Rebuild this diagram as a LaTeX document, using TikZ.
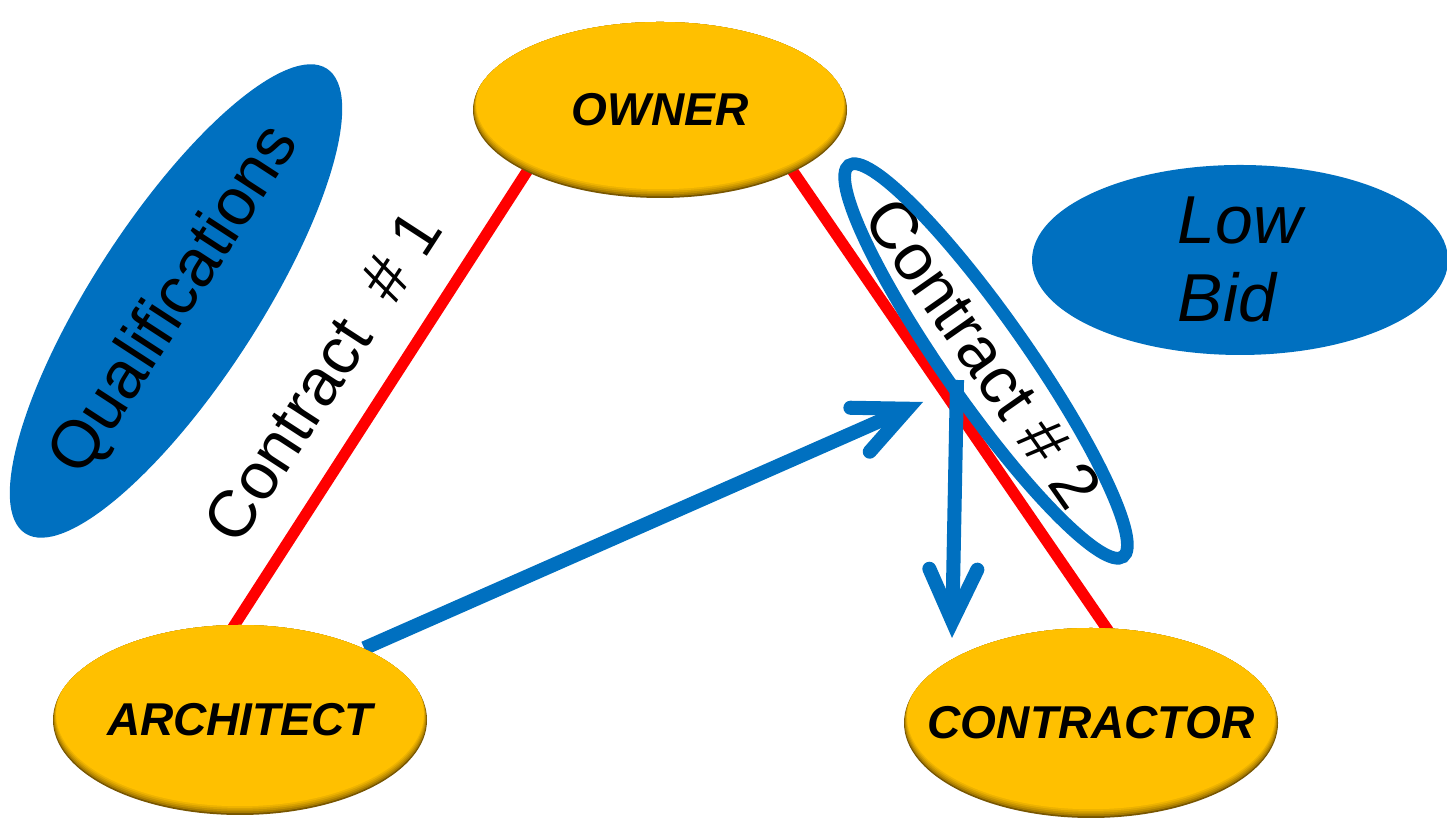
\documentclass[tikz,border=0pt]{standalone}
\usepackage{fontspec}
\setmainfont{Liberation Sans}
\usetikzlibrary{shapes.geometric,arrows.meta,backgrounds,calc}
\definecolor{gold}{RGB}{255,192,0}
\definecolor{goldDark}{RGB}{120,86,0}
\definecolor{blueC}{RGB}{0,112,192}
\definecolor{redC}{RGB}{255,0,0}

\begin{document}
\begin{tikzpicture}[
  party/.style={ellipse, inner xsep=-1.2cm, inner ysep=0pt, minimum width=3.74cm, minimum height=1.9cm, fill=goldDark,
    font=\fontsize{13.1}{15}\selectfont\bfseries\itshape,
    path picture={
      \foreach \k/\c in {1/35,2/55,3/72,4/87,5/100}
        \fill[gold!\c!goldDark] let \p1=(path picture bounding box.north east), \p2=(path picture bounding box.south west) in
          ($(path picture bounding box.center)+(0,\k*0.35pt)$) ellipse ({(\x1-\x2)/2-\k*0.18pt} and {(\y1-\y2)/2-\k*0.15pt});
    }},
  blob/.style={ellipse, fill=blueC, inner xsep=-1.2cm, inner ysep=0pt},
  contractfont/.style={font=\fontsize{18.8}{22}\selectfont},
  redline/.style={draw=redC, line width=3.2pt, shorten <=-3pt, shorten >=-3pt},
  bluearrow/.style={draw=blueC, line width=4pt,
    -{Straight Barb[length=5.2mm, width=4.8mm, line cap=round, line join=miter]}}
]
  \useasboundingbox (0,0) rectangle (14.47,8.18);

  \node[party, minimum height=1.76cm] (owner) at (6.60, 7.08) {OWNER};
  \node[party] (architect) at (2.40, 0.98) {ARCHITECT};
  \node[party] (contractor) at (10.91, 0.95) {CONTRACTOR};

  \node[blob, rotate=57, minimum width=5.54cm, minimum height=1.66cm,
    font=\fontsize{19}{22}\selectfont] (quals) at (1.76, 5.17) {Qualifications};
  \node[blob, minimum width=4.16cm, minimum height=1.90cm, align=left,
    font=\fontsize{19.3}{22.2}\selectfont\itshape] (lowbid) at (12.40, 5.58) {Low\\Bid};

  \node[contractfont, rotate=57] (contract1) at (3.22, 4.42) {Contract\ \ \# 1};

  \coordinate (ringc) at (9.86, 4.57);
  \begin{scope}
    \clip[rotate around={-55:(ringc)}] (ringc) ellipse (2.39 and 0.42);
    \node[contractfont, rotate=-55] (contract2) at (9.83, 4.65) {Contract \# 2};
  \end{scope}
  \draw[blueC, line width=3.6pt, rotate around={-55:(ringc)}] (ringc) ellipse (2.39 and 0.42);

  \coordinate (bidtip) at (9.23, 4.16);
  \coordinate (dropstart) at (9.57, 4.38);
  \coordinate (droptip) at (9.52, 1.80);

  \begin{pgfonlayer}{background}
    \draw[redline] (architect.93) -- (owner.205);
    \draw[redline] (owner.335) -- (contractor.81);
    \draw[bluearrow] (architect.30) -- (bidtip);
    \draw[bluearrow] (dropstart) -- (droptip);
  \end{pgfonlayer}
\end{tikzpicture}
\end{document}
